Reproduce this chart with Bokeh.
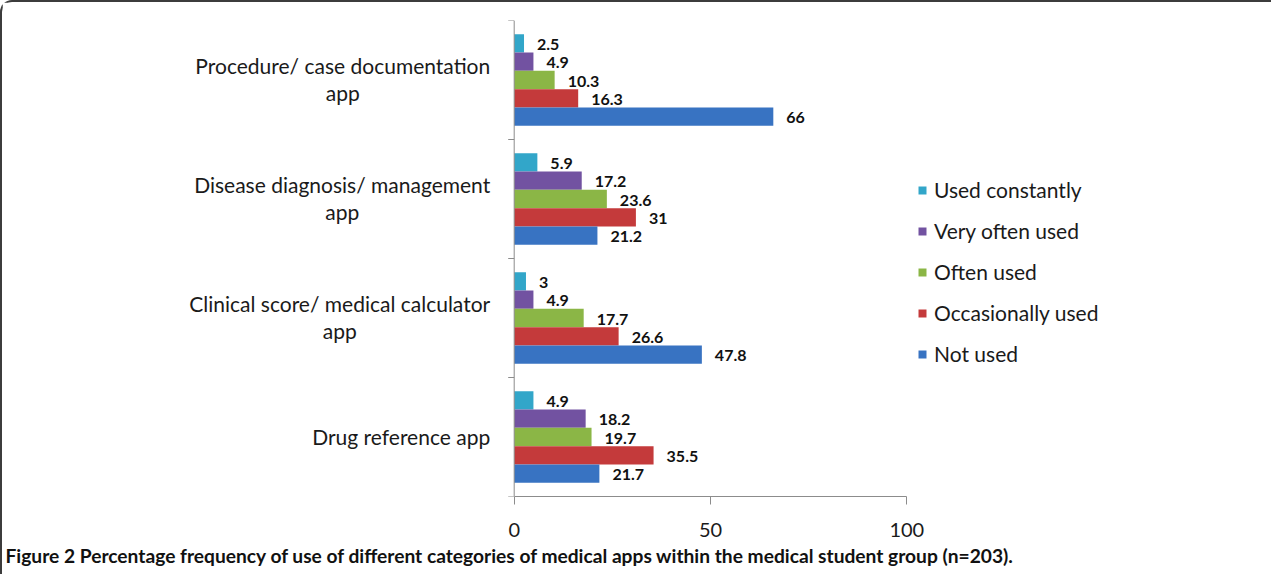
import math
from bokeh.plotting import figure
from bokeh.models import (Range1d, FixedTicker, ColumnDataSource, Span, Title,
                          Legend, LegendItem)
from bokeh.transform import dodge
from bokeh.embed import file_html
from bokeh.resources import INLINE
from bokeh.core.properties import value

# ---------------- data ----------------
categories = [
    "Procedure/ case documentation app",
    "Disease diagnosis/ management app",
    "Clinical score/ medical calculator app",
    "Drug reference app",
]
category_text = [
    "Procedure/ case documentation\napp",
    "Disease diagnosis/ management\napp",
    "Clinical score/ medical calculator\napp",
    "Drug reference app",
]
series_names = ["Used constantly", "Very often used", "Often used", "Occasionally used", "Not used"]
used_constantly = [2.5, 5.9, 3, 4.9]
very_often_used = [4.9, 17.2, 4.9, 18.2]
often_used = [10.3, 23.6, 17.7, 19.7]
occasionally_used = [16.3, 31, 26.6, 35.5]
not_used = [66, 21.2, 47.8, 21.7]
x_ticks = [0, 50, 100]
caption = ("Figure 2 Percentage frequency of use of different categories of medical apps "
           "within the medical student group (n=203).")

# ---------------- layout / style ----------------
colors = ["#32A6C9", "#7252A1", "#8BB646", "#C43A3B", "#3873C2"]
FONT = "Lato"
TXT = "#1a1a1a"
AX = "#8c8c8c"
CANVAS_W, CANVAS_H = 1271, 574
AXIS_X0 = 511.7          # canvas px where value 0 sits
PX_PER_UNIT = 3.926

series = [used_constantly, very_often_used, often_used, occasionally_used, not_used]
ncat = len(categories)

p = figure(width=CANVAS_W, height=CANVAS_H,
           y_range=Range1d(0, ncat),
           x_range=Range1d(-AXIS_X0 / PX_PER_UNIT, (CANVAS_W - AXIS_X0) / PX_PER_UNIT),
           y_axis_location=None,
           output_backend="svg", toolbar_location=None,
           min_border_left=0, min_border_right=0,
           min_border_top=18, min_border_bottom=80)
p.styles = {"border-top": "2px solid #3c3c3c", "border-left": "2px solid #3c3c3c",
            "border-top-left-radius": "12px"}
p.grid.visible = False
p.outline_line_color = None

# x axis (only spanning 0..100)
xa = p.xaxis[0]
xa.bounds = (x_ticks[0], x_ticks[-1])
xa.ticker = FixedTicker(ticks=x_ticks)
xa.axis_line_color = AX
xa.major_tick_line_color = AX
xa.major_tick_out = 8
xa.major_tick_in = 0
xa.minor_tick_line_color = None
xa.major_label_text_font = FONT
xa.major_label_text_font_size = "20px"
xa.major_label_text_color = TXT
xa.major_label_standoff = 18

# y axis line at value 0 with ticks at category boundaries
p.add_layout(Span(location=0, dimension="height", line_color=AX, line_width=1))
p.ray(x=0, y=list(range(ncat + 1)), length=6, length_units="screen", angle=math.pi,
      line_color=AX, line_width=1)

ycenter = [ncat - i - 0.5 for i in range(ncat)]
src = ColumnDataSource(dict(cat=categories, yc=ycenter, ctext=category_text))

# category labels: block right-aligned next to the axis, lines centred
p.text(x=0, y="yc", text="ctext", source=src, x_offset=-24, y_offset=-1,
       anchor="center_right", text_align="center", text_baseline="middle",
       text_font=value(FONT), text_font_size="21px", text_color=TXT,
       text_line_height=1.05)

n = len(series)
bar_h = 0.154
items = []
for k, (name, vals, col) in enumerate(zip(series_names, series, colors)):
    off = ((n - 1) / 2 - k) * bar_h
    key = f"s{k}"
    src.data[key] = vals
    src.data[key + "_txt"] = [f"{v:g}" for v in vals]
    r = p.hbar(y=dodge("yc", off), left=0, right=key, height=bar_h,
               source=src, fill_color=col, line_color=None)
    items.append(LegendItem(label=name, renderers=[r]))
    p.text(x=key, y=dodge("yc", off), text=key + "_txt", source=src,
           x_offset=13, y_offset=1,
           text_font=value(FONT), text_font_style="bold",
           text_font_size="16px", text_color="#111111",
           text_baseline="middle", text_align="left")

legend = Legend(items=items, location=(915, 130),
                glyph_width=10, glyph_height=10,
                label_text_font=FONT, label_text_font_size="21px", label_text_color=TXT,
                label_height=24, spacing=16, padding=0, margin=0, label_standoff=7,
                border_line_color=None, background_fill_alpha=0)
p.add_layout(legend)

p.add_layout(Title(text=caption, align="left", offset=3, standoff=4,
                   text_font=FONT, text_font_style="bold", text_font_size="19.2px",
                   text_color="#111111"), "below")

open("out.html", "w").write(file_html(p, INLINE))
